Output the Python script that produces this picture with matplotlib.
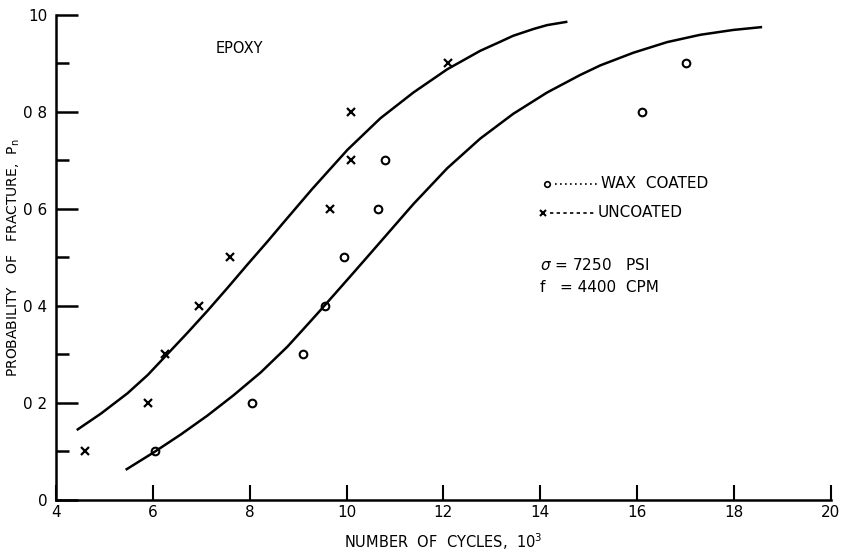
import matplotlib
matplotlib.use("Agg")
import matplotlib.pyplot as plt
from matplotlib.ticker import MultipleLocator

plt.rcParams["font.family"] = ["DejaVu Sans"]

# measured points, cycles in thousands
uncoated_x = [4.6, 5.9, 6.25, 6.95, 7.6, 9.65, 10.1, 10.1, 12.1]
uncoated_p = [0.1, 0.2, 0.3, 0.4, 0.5, 0.6, 0.7, 0.8, 0.9]
wax_x = [6.05, 8.05, 9.1, 9.55, 9.95, 10.65, 10.8, 16.1, 17.0]
wax_p = [0.1, 0.2, 0.3, 0.4, 0.5, 0.6, 0.7, 0.8, 0.9]

# fitted curves
uncoated_curve_x = [4.43, 4.93, 5.48, 5.90, 6.23, 6.72, 7.13, 7.55, 7.96, 8.37,
                    8.70, 9.29, 10.02, 10.70, 11.38, 12.08, 12.76, 13.18, 13.44,
                    13.86, 14.14, 14.56]
uncoated_curve_p = [0.144, 0.178, 0.220, 0.258, 0.293, 0.345, 0.390, 0.438, 0.486, 0.533,
                    0.572, 0.641, 0.722, 0.787, 0.840, 0.888, 0.926, 0.945, 0.957,
                    0.971, 0.979, 0.986]
wax_curve_x = [5.44, 6.02, 6.58, 7.13, 7.67, 8.23, 8.78, 9.19, 9.46, 10.14,
               10.49, 11.38, 12.08, 12.76, 13.44, 14.14, 14.82, 15.24, 15.92,
               16.62, 17.30, 17.98, 18.58]
wax_curve_p = [0.062, 0.098, 0.135, 0.174, 0.216, 0.263, 0.316, 0.361, 0.391, 0.468,
               0.508, 0.610, 0.684, 0.745, 0.796, 0.840, 0.876, 0.896, 0.922,
               0.944, 0.959, 0.969, 0.975]

x_ticks = [4, 6, 8, 10, 12, 14, 16, 18, 20]
y_ticks = [0, 0.2, 0.4, 0.6, 0.8, 1.0]
y_tick_labels = ["0", "0 2", "0 4", "0 6", "0 8", "10"]

fig = plt.figure(figsize=(8.47, 5.53), dpi=100)
ax = fig.add_axes([0.066, 0.096, 0.915, 0.877])

ax.plot(uncoated_curve_x, uncoated_curve_p, color="black", lw=1.8,
        solid_capstyle="butt", solid_joinstyle="round")
ax.plot(wax_curve_x, wax_curve_p, color="black", lw=1.8,
        solid_capstyle="butt", solid_joinstyle="round")

ax.plot(uncoated_x, uncoated_p, linestyle="none", marker="x", ms=6, mew=1.6, color="black")
ax.plot(wax_x, wax_p, linestyle="none", marker="o", ms=5.5, mew=1.5,
        mfc="none", mec="black")

ax.set_xlim(4, 20)
ax.set_ylim(0, 1.0)
ax.set_xticks(x_ticks)
ax.set_yticks(y_ticks)
ax.set_yticklabels(y_tick_labels)
ax.yaxis.set_minor_locator(MultipleLocator(0.1))

for s in ["top", "right"]:
    ax.spines[s].set_visible(False)
for s in ["left", "bottom"]:
    ax.spines[s].set_linewidth(1.8)

ax.tick_params(axis="y", which="major", direction="in", length=16, width=1.8,
               labelsize=11, pad=6)
ax.tick_params(axis="y", which="minor", direction="in", length=9, width=1.8)
ax.tick_params(axis="x", which="major", direction="in", length=11, width=1.5,
               labelsize=11, pad=4)

ax.set_xlabel("NUMBER  OF  CYCLES,  $\\mathregular{10^3}$", fontsize=10.5, labelpad=8)
ax.set_ylabel("PROBABILITY   OF   FRACTURE,  $\\mathregular{P_n}$", fontsize=10, labelpad=1)

ax.text(7.3, 0.93, "EPOXY", fontsize=10.5, va="center", ha="left")

# legend drawn by hand: marker, dotted lead, label
ax.plot([14.14], [0.652], marker="o", ms=4, mfc="none", mec="black", mew=1.2)
ax.plot([14.3, 15.22], [0.652, 0.652], color="black", lw=1.2, linestyle=(0, (1, 2)))
ax.text(15.25, 0.652, "WAX  COATED", fontsize=11, va="center", ha="left")
ax.plot([14.06], [0.592], marker="x", ms=4.5, mew=1.5, color="black")
ax.plot([14.2, 15.15], [0.592, 0.592], color="black", lw=1.2, linestyle=(0, (2, 2)))
ax.text(15.18, 0.592, "UNCOATED", fontsize=11, va="center", ha="left")

ax.text(14.0, 0.485, "$\\sigma$ = 7250   PSI", fontsize=11, va="center", ha="left")
ax.text(14.0, 0.437, "f   = 4400  CPM", fontsize=11, va="center", ha="left")

fig.savefig("out.png", dpi=100)
